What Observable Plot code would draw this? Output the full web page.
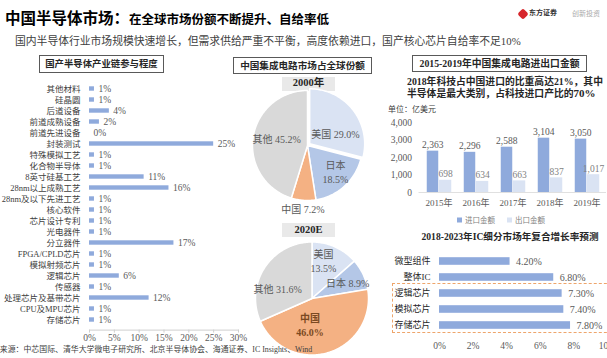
<!DOCTYPE html>
<html><head><meta charset="utf-8">
<script src="https://cdn.jsdelivr.net/npm/d3@7"></script>
<script src="https://cdn.jsdelivr.net/npm/@observablehq/plot@0.6"></script>
<style>
body{margin:0;background:#fff;}
#root{position:relative;width:607px;height:358px;overflow:hidden;font-family:"Liberation Serif","Noto Sans CJK SC",serif;background:#fff;}
.abs{position:absolute;white-space:nowrap;}
.box{position:absolute;box-sizing:border-box;border:1px solid #595959;text-align:center;font-weight:bold;color:#262626;white-space:nowrap;}
</style></head><body><div id="root"></div>
<script>
// ---------- data ----------
const chainCats = ["其他材料","硅晶圆","后道设备","前道成熟设备","前道先进设备","封装测试","特殊模拟工艺","化合物半导体","8英寸硅基工艺","28nm以上成熟工艺","28nm及以下先进工艺","核心软件","芯片设计专利","光电器件","分立器件","FPGA/CPLD芯片","模拟射频芯片","逻辑芯片","传感器","处理芯片及基带芯片","CPU及MPU芯片","存储芯片"];
const chainPct = [1,1,4,2,0,25,1,1,11,16,1,1,1,1,17,1,1,6,1,12,1,1];
const chainTicks = [0,5,10,15,20,25,30];

const pieRegions = ["美国","日本","中国","其他"];
const share2000 = [29.0,18.5,7.2,45.2];
const share2020 = [13.5,8.9,46.0,31.6];

const years = ["2015年","2016年","2017年","2018年","2019年"];
const importAmt = [2363,2296,2588,3104,3050];
const exportAmt = [698,634,663,837,1017];
const tradeTicks = [0,1000,2000,3000,4000];

const cagrCats = ["微型组件","整体IC","逻辑芯片","模拟芯片","存储芯片"];
const cagrPct = [4.2,6.8,7.3,7.4,7.8];
const cagrTicks = [0,2,4,6,8,10];

// ---------- layout ----------
const W = 607, H = 358;
const root = document.getElementById("root");
const FONT = '"Liberation Serif","Noto Sans CJK SC",serif';
const svgStyle = `position:absolute;left:0;top:0;background:transparent;overflow:visible;font-family:${FONT};font-size:9px;color:#404040;`;
const BLUE = "#8faadc", LIGHT = "#dae3f3", MID = "#b4c7e7", ORANGE = "#f4b183", GRAY = "#d9d9d9";
const pieColors = [LIGHT, MID, ORANGE, GRAY];

function txt(html, x, y, css = {}, anchor = "start") {
  const d = document.createElement("div");
  d.className = "abs";
  d.innerHTML = html;
  const tx = anchor === "middle" ? "-50%" : anchor === "end" ? "-100%" : "0";
  Object.assign(d.style, {left: x + "px", top: y + "px", lineHeight: "1.2", transform: `translate(${tx},-50%)`}, css);
  root.appendChild(d);
  return d;
}
function box(html, x, y, w, h, css = {}) {
  const d = document.createElement("div");
  d.className = "box";
  d.innerHTML = html;
  Object.assign(d.style, {left: x + "px", top: y + "px", width: w + "px", height: h + "px", lineHeight: (h - 2) + "px"}, css);
  root.appendChild(d);
  return d;
}

// ---------- header ----------
txt('<span style="font-size:15.5px">中国半导体市场：</span><span style="font-size:12.5px">在全球市场份额不断提升、自给率低</span>', 5, 19, {fontWeight: "bold", color: "#000"});
txt('国内半导体行业市场规模快速增长，但需求供给严重不平衡，高度依赖进口，国产核心芯片自给率不足10%', 15, 41, {fontSize: "10.8px", color: "#404040"});
// logo
const logo = document.createElement("div");
Object.assign(logo.style, {position: "absolute", left: "519px", top: "10px", width: "8px", height: "8px", background: "#d7262b", transform: "rotate(45deg)", borderRadius: "2px"});
root.appendChild(logo);
txt('东方证券', 529, 13, {fontSize: "7px", fontWeight: "bold", color: "#333"});
txt('创新投资', 572, 14, {fontSize: "7px", color: "#aaa"});

// ---------- left panel ----------
box('国产半导体产业链参与程度', 39, 55, 125, 18, {fontSize: "9.4px"});
const chainData = chainCats.map((c, i) => ({c, v: chainPct[i]}));
root.appendChild(Plot.plot({
  width: W, height: H,
  marginLeft: 89, marginRight: W - 238, marginTop: 78.6, marginBottom: H - 329.6,
  style: svgStyle,
  x: {domain: [0, 30], range: [89, 238], label: null},
  y: {domain: chainCats, range: [78.6, 329.6], padding: 0, label: null},
  marks: [
    Plot.barX(chainData, {x: "v", y: "c", fill: BLUE, insetTop: 3.3, insetBottom: 3.3}),
    Plot.text(chainData, {x: "v", y: "c", text: d => d.v + "%", dx: 4, textAnchor: "start", fill: "#595959", fontSize: 9.5}),
    Plot.axisY({tickSize: 0, tickPadding: 9, fontSize: 8.5, fill: "#404040"}),
    Plot.frame({anchor: "bottom", stroke: "#cfcfcf"}),
    Plot.axisX({ticks: chainTicks, tickSize: 3, tickFormat: () => "", stroke: "#cfcfcf"}),
    Plot.axisX({ticks: chainTicks, tickSize: 0, tickPadding: 4, tickFormat: d => d + "%", fill: "#595959", fontSize: 9.5})
  ]
}));

// ---------- middle panel (pies) ----------
box('中国集成电路市场占全球份额', 233, 57, 139, 17, {fontSize: "9.6px"});
box('2000年', 282, 77, 53, 14, {border: "none", background: "#e9e9e9", fontSize: "10.5px"});
box('2020E', 282, 223, 53, 14, {border: "none", background: "#e9e9e9", fontSize: "10.5px", lineHeight: "14px"});

function pieRows(values, explode) {
  const arcs = d3.pie().sort(null).value(d => d)(values);
  const rows = [], labels = [];
  arcs.forEach((a, i) => {
    const k = pieRegions[i];
    const mid = (a.startAngle + a.endAngle) / 2;
    const off = explode[i] || 0;
    const ox = off * Math.sin(mid), oy = -off * Math.cos(mid);
    const n = Math.max(4, Math.ceil((a.endAngle - a.startAngle) / 0.02));
    rows.push({k, x: ox, y: oy});
    for (let j = 0; j <= n; j++) {
      const t = a.startAngle + (a.endAngle - a.startAngle) * j / n;
      rows.push({k, x: ox + Math.sin(t), y: oy - Math.cos(t)});
    }
    rows.push({k, x: ox, y: oy});
    labels.push({k, mid, v: values[i]});
  });
  return {rows, labels};
}
function pie(values, cx, cy, r, explode, lr, nudge, breaks) {
  const {rows, labels} = pieRows(values, explode);
  labels.forEach((l, i) => {
    l.x = lr[i] * Math.sin(l.mid);
    l.y = -lr[i] * Math.cos(l.mid);
    l.dx = nudge[i][0]; l.dy = nudge[i][1];
    l.t = l.k + (breaks[i] ? "\n" : " ") + l.v.toFixed(1) + "%";
  });
  const marks = [
    Plot.line(rows, {x: "x", y: "y", z: "k", fill: "k", stroke: "white", strokeWidth: 1.5, strokeLinejoin: "round"})
  ];
  labels.forEach(l => {
    const isCN = l.k === "中国" && l.v > 40;
    marks.push(Plot.text([l], {x: "x", y: "y", text: "t", dx: l.dx, dy: l.dy, fontSize: 10, lineHeight: 1.35,
      fill: isCN ? "#7b4a22" : "#595959", fontWeight: isCN ? "bold" : "normal"}));
  });
  return Plot.plot({
    width: W, height: H, margin: 0, style: svgStyle,
    x: {domain: [-1, 1], range: [cx - r, cx + r], axis: null},
    y: {domain: [-1, 1], range: [cy - r, cy + r], axis: null},
    color: {type: "ordinal", domain: pieRegions, range: pieColors},
    marks
  });
}
root.appendChild(pie(share2000, 307, 145, 55, [0.05, 0, 0, 0],
  [0.62, 0.62, 1.15, 0.62], [[1, 9], [5, 1], [0, 0], [3, -2]], [false, true, false, false]));
root.appendChild(pie(share2020, 311.5, 298, 56.5, [0, 0, 0, 0],
  [0.62, 0.7, 0.5, 0.62], [[-3, -6], [0, 1], [-10, -1], [-5, 9]], [true, false, true, false]));

// source line (drawn above the pies)
txt('资料来源：中芯国际、清华大学微电子研究所、北京半导体协会、海通证券、IC Insights、Wind', -16, 350, {fontSize: "7.9px", color: "#404040"});

// ---------- right top (trade) ----------
box('2015-2019年中国集成电路进出口金额', 412, 55, 175, 17, {fontSize: "9.8px"});
txt('2018年科技占中国进口的比重高达21%，其中', 407, 82, {fontSize: "9.8px", fontWeight: "bold", color: "#262626"});
txt('半导体是最大类别，占科技进口产比的<span style="font-size:11px">70%</span>', 407, 94, {fontSize: "9.8px", fontWeight: "bold", color: "#262626"});
txt('单位：亿美元', 388, 110, {fontSize: "8px", color: "#404040"});
const tradeData = years.map((y, i) => ({y, imp: importAmt[i], exp: exportAmt[i]}));
const fmt = d3.format(",");
root.appendChild(Plot.plot({
  width: W, height: H,
  marginLeft: 418.5, marginRight: W - 606, marginTop: 122, marginBottom: H - 192,
  style: svgStyle,
  x: {domain: years, range: [418.5, 606], padding: 0, label: null},
  y: {domain: [0, 4000], range: [192, 122], label: null},
  marks: [
    Plot.ruleY([0], {stroke: "#e0e0e0"}),
    Plot.barY(tradeData, {x: "y", y: "imp", fill: BLUE, insetLeft: 6.75, insetRight: 18.75}),
    Plot.barY(tradeData, {x: "y", y: "exp", fill: LIGHT, insetLeft: 18.75, insetRight: 5.75}),
    Plot.text(tradeData, {x: "y", y: "imp", text: d => fmt(d.imp), dx: -6.25, dy: -3, lineAnchor: "bottom", fill: "#595959", fontSize: 9.5}),
    Plot.text(tradeData, {x: "y", y: "exp", text: d => fmt(d.exp), dx: 6.5, dy: -3, lineAnchor: "bottom", fill: "#7f7f7f", fontSize: 9.5}),
    Plot.axisY({ticks: tradeTicks, tickFormat: fmt, tickSize: 0, tickPadding: 7, fill: "#595959", fontSize: 9.5}),
    Plot.axisX({tickSize: 0, tickPadding: 7, fill: "#595959", fontSize: 9})
  ]
}));
txt('<span style="display:inline-block;width:5px;height:5px;background:' + BLUE + ';margin-right:3px"></span>进口金额<span style="display:inline-block;width:5px;height:5px;background:' + LIGHT + ';margin:0 3px 0 12px"></span>出口金额', 457, 220, {fontSize: "7.5px", color: "#7f7f7f"});

// ---------- right bottom (CAGR) ----------
txt('2018-2023年IC细分市场年复合增长率预测', 510, 237, {fontSize: "9.6px", fontWeight: "bold", color: "#262626"}, "middle");
const cagrData = cagrCats.map((c, i) => ({c, v: cagrPct[i]}));
root.appendChild(Plot.plot({
  width: W, height: H,
  marginLeft: 439, marginRight: 0, marginTop: 251.8, marginBottom: H - 333.3,
  style: svgStyle,
  x: {domain: [0, 10], range: [439, 607], label: null},
  y: {domain: cagrCats, range: [251.8, 333.3], padding: 0, label: null},
  marks: [
    Plot.barX(cagrData, {x: "v", y: "c", fill: BLUE, insetTop: 4.2, insetBottom: 4.2}),
    Plot.text(cagrData, {x: "v", y: "c", text: d => d.v.toFixed(2) + "%", dx: 6, textAnchor: "start", fill: "#595959", fontSize: 10}),
    Plot.axisY({tickSize: 0, tickPadding: 9, fontSize: 9, fill: "#262626"}),
    Plot.axisX({ticks: cagrTicks, tickSize: 0, tickPadding: 8, tickFormat: d => d + "%", fill: "#595959", fontSize: 9.5})
  ]
}));
const dash = document.createElement("div");
Object.assign(dash.style, {position: "absolute", left: "392px", top: "283px", width: "230px", height: "50px", border: "1.5px dashed #eea56b", boxSizing: "border-box"});
root.appendChild(dash);
</script></body></html>
